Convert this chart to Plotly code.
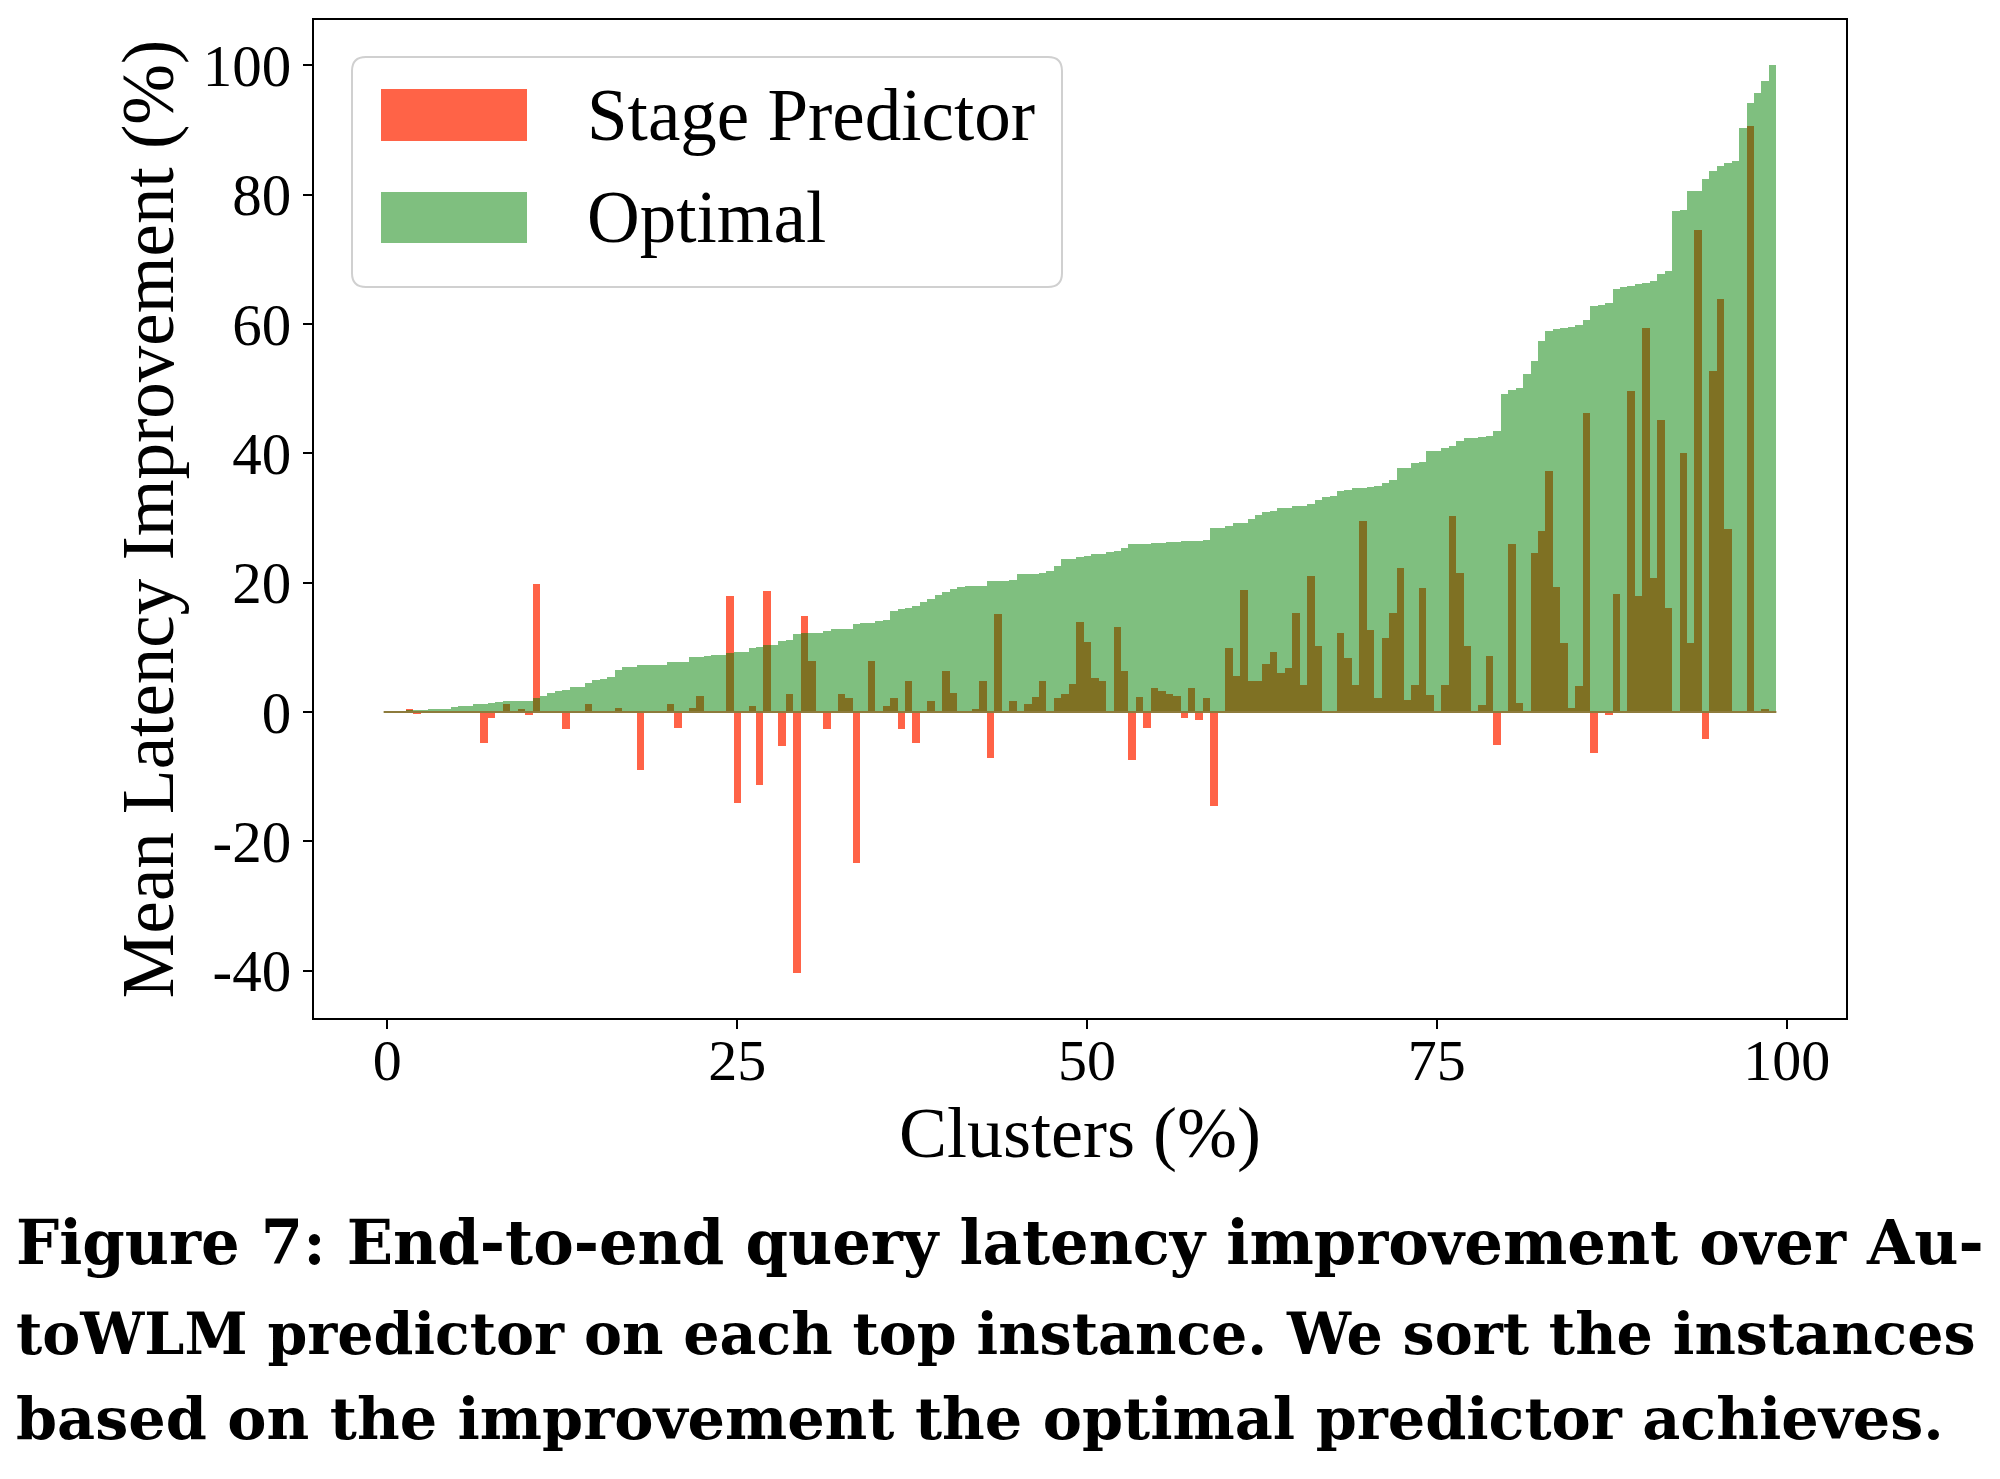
import numpy as np
import plotly.graph_objects as go

# ---------------- data ----------------
# Optimal predictor improvement (%) per cluster, sorted ascending
optimal = [
    0.05, 0.06, 0.08,
    0.30, 0.33, 0.36, 0.40, 0.42, 0.45,
    0.85, 0.90, 0.95,
    1.25, 1.30, 1.35,
    1.60, 1.65, 1.70, 1.72, 1.75,
    2.2, 2.5,
    3.0, 3.2,
    3.4,
    3.8, 3.85,
    4.5,
    5.0, 5.05,
    5.4,
    6.5,
    6.9, 6.95,
    7.2, 7.25, 7.3, 7.35,
    7.7, 7.75, 7.8,
    8.5, 8.55, 8.6,
    8.8, 8.85,
    9.2, 9.25, 9.3,
    9.9, 10.0,
    10.3, 10.4,
    11.0, 11.1,
    12.1, 12.15, 12.2, 12.25,
    12.6,
    12.8, 12.85, 12.9,
    13.6, 13.7, 13.75,
    14.1, 14.2,
    15.6,
    16.0, 16.1,
    16.4, 17.0, 17.5, 18.1, 18.6, 19.1,
    19.4, 19.45, 19.5, 19.55,
    20.2, 20.25, 20.3, 20.35,
    21.3, 21.35, 21.4, 21.45,
    21.8, 22.6,
    23.6, 23.7, 24.0, 24.1, 24.4, 24.5, 24.8, 24.9,
    25.3,
    26.0, 26.0, 26.05, 26.1, 26.1,
    26.3, 26.35, 26.4, 26.45, 26.5, 26.6,
    28.4, 28.5, 28.8, 29.2, 29.3, 29.9, 30.4,
    31.0, 31.1, 31.5, 31.6, 31.8, 31.9,
    32.2, 32.8, 33.3, 33.4, 34.2, 34.3,
    34.6, 34.7, 34.8, 34.9, 35.4, 35.9,
    37.7, 37.8, 38.5, 38.6, 40.3, 40.4,
    40.8, 41.1, 41.9, 42.3, 42.4, 42.6, 42.7, 43.5,
    49.2, 49.8, 50.1, 52.2, 54.3, 57.3,
    59.0, 59.2, 59.4, 59.6, 59.8, 60.7,
    62.8, 62.9, 63.2, 65.4, 65.8, 65.9,
    66.2, 66.3, 66.7, 67.7, 68.2,
    77.5, 77.6, 80.5, 80.6, 82.4, 83.7,
    84.5, 84.9, 85.2, 90.3, 94.2, 95.7, 97.6, 100.0,
]

# Stage predictor improvement (%) per cluster (same order)
stage = [
    0, 0, 0, 0.4, -0.2, 0, 0, 0, 0, 0,
    0, 0, -0.1, -4.8, -0.9, 0, 1.3, 0, 0.5, -0.5,
    19.8, 0, -0.1, 0, -2.7, 0, 0, 1.3, 0, 0,
    0, 0.6, 0, 0, -9.0, 0, 0, 0, 1.3, -2.4,
    0, 0.6, 2.5, 0, 0, 0, 18.0, -14.0, 0, 0.9,
    -11.3, 18.7, 0, -5.2, 2.8, -40.3, 14.9, 7.9, 0, -2.7,
    0, 2.8, 2.1, -23.3, 0, 7.9, 0, 0.9, 2.1, -2.7,
    4.8, -4.8, 0, 1.7, 0, 6.3, 3.0, 0, 0, 0.5,
    4.8, -7.1, 15.2, 0, 1.7, 0, 1.2, 2.4, 4.8, 0,
    2.1, 2.8, 4.4, 14.0, 10.9, 5.2, 4.8, 0, 13.2, 6.3,
    -7.4, 2.4, -2.5, 3.7, 3.3, 2.8, 2.5, -0.9, 3.7, -1.3,
    2.1, -14.6, 0, 9.9, 5.6, 18.8, 4.8, 4.8, 7.5, 9.3,
    6.0, 6.8, 15.3, 4.2, 21.1, 10.2, 0, 0, 12.2, 8.3,
    4.2, 29.6, 12.7, 2.1, 11.4, 15.3, 22.3, 1.8, 4.2, 19.2,
    2.6, 0, 4.2, 30.3, 21.5, 10.2, 0, 1.1, 8.7, -5.1,
    0, 26.0, 1.4, 0, 24.6, 28.0, 37.3, 19.4, 10.6, 0.6,
    4.0, 46.2, -6.4, 0, -0.5, 18.3, 0, 49.6, 17.9, 59.4,
    20.7, 45.1, 16.1, 0, 40.0, 10.6, 74.5, -4.1, 52.8, 63.9,
    28.3, 0, 0, 90.7, 0, 0.5, 0,
]

series_names = ["Stage Predictor", "Optimal"]
x_ticks = [0, 25, 50, 75, 100]
x_tick_labels = ["0", "25", "50", "75", "100"]
y_ticks = [-40, -20, 0, 20, 40, 60, 80, 100]
y_tick_labels = ["-40", "-20", "0", "20", "40", "60", "80", "100"]

caption_lines = [
    "Figure 7: End-to-end query latency improvement over Au-",
    "toWLM predictor on each top instance. We sort the instances",
    "based on the improvement the optimal predictor achieves.",
]

# ---------------- geometry ----------------
n = min(len(optimal), len(stage))
optimal = optimal[:n]
stage = stage[:n]
cluster_pct = np.linspace(0, 99, n)
bar_w = cluster_pct[1] - cluster_pct[0]

x_lo = cluster_pct[0] - bar_w / 2
x_hi = cluster_pct[-1] + bar_w / 2
x_pad = 0.05 * (x_hi - x_lo)
y_lo = min(min(stage), min(optimal), 0)
y_hi = max(max(stage), max(optimal))
y_pad = 0.05 * (y_hi - y_lo)

# The page body adds an 8px offset; compensate so the picture lands where the reference is.
OFF = 8
W, H = 2000 - OFF, 1479 - OFF
PX_L, PX_R, PX_T, PX_B = 314, 1846, 20, 1018   # plot area in reference pixels


def pxx(px):
    return (px - PX_L) / (PX_R - PX_L)


def pxy(py):
    return (PX_B - py) / (PX_B - PX_T)


RED = "#FF6347"
GREEN = "rgba(0,128,0,0.5)"
FONT = "Liberation Serif"

fig = go.Figure()
fig.add_trace(go.Bar(
    x=cluster_pct, y=stage, width=bar_w, name=series_names[0],
    marker=dict(color=RED, line=dict(width=0)), showlegend=False,
))
fig.add_trace(go.Bar(
    x=cluster_pct, y=optimal, width=bar_w, name=series_names[1],
    marker=dict(color=GREEN, line=dict(width=0)), showlegend=False,
))

axis_common = dict(
    showline=True, mirror=True, linecolor="black", linewidth=2,
    ticks="outside", ticklen=9, tickwidth=2, tickcolor="black",
    showgrid=False, zeroline=False,
)

fig.update_layout(
    width=W, height=H,
    margin=dict(l=PX_L - OFF, r=2000 - PX_R, t=PX_T - OFF, b=1479 - PX_B, autoexpand=False),
    paper_bgcolor="white", plot_bgcolor="white",
    barmode="overlay", bargap=0,
    showlegend=False,
    xaxis=dict(
        range=[x_lo - x_pad, x_hi + x_pad],
        tickmode="array", tickvals=x_ticks, ticktext=x_tick_labels,
        tickfont=dict(family=FONT, size=58, color="black"),
        title=dict(text="Clusters (%)", font=dict(family=FONT, size=72, color="black"), standoff=12),
        ticklabelstandoff=-19,
        **axis_common,
    ),
    yaxis=dict(
        range=[y_lo - y_pad, y_hi + y_pad],
        tickmode="array", tickvals=y_ticks, ticktext=y_tick_labels,
        tickfont=dict(family=FONT, size=59, color="black"),
        title=dict(text="Mean Latency Improvement (%)", font=dict(family=FONT, size=73, color="black"), standoff=5),
        ticklabelstandoff=0,
        **axis_common,
    ),
)

# zero baseline along the bars
fig.add_shape(type="line", xref="x", yref="y", x0=x_lo, x1=x_hi, y0=0, y1=0,
              line=dict(color="#8d7b3c", width=2), layer="above")

# ---------------- custom legend (matplotlib-like large patches) ----------------
bx0, by0, bx1, by1, rad = 352, 57, 1062, 287, 14
pts = [
    ("M", bx0 + rad, by0), ("L", bx1 - rad, by0), ("Q", bx1, by0, bx1, by0 + rad),
    ("L", bx1, by1 - rad), ("Q", bx1, by1, bx1 - rad, by1),
    ("L", bx0 + rad, by1), ("Q", bx0, by1, bx0, by1 - rad),
    ("L", bx0, by0 + rad), ("Q", bx0, by0, bx0 + rad, by0),
]
path = ""
for p in pts:
    cmd = p[0]
    coords = p[1:]
    seg = []
    for i in range(0, len(coords), 2):
        seg.append(f"{pxx(coords[i]):.5f},{pxy(coords[i + 1]):.5f}")
    path += cmd + " ".join(seg) + " "
path += "Z"
fig.add_shape(type="path", xref="paper", yref="paper", path=path,
              fillcolor="rgba(255,255,255,0.85)", line=dict(color="#d0d0d0", width=2), layer="above")

patches = [(RED, 89, 141), (GREEN, 192, 243)]
for (col, t, b), name in zip(patches, series_names):
    fig.add_shape(type="rect", xref="paper", yref="paper",
                  x0=pxx(381), x1=pxx(527), y0=pxy(b), y1=pxy(t),
                  fillcolor=col, line=dict(width=0), layer="above")
    fig.add_annotation(x=pxx(585), y=pxy((t + b) / 2), xref="paper", yref="paper",
                       text=name, showarrow=False, xanchor="left", yanchor="middle",
                       font=dict(family=FONT, size=73, color="black"))

# ---------------- caption ----------------
caption_baselines = [1266, 1355, 1441]
caption_sizes = [60.8, 57, 58.8]
for line, base, sz in zip(caption_lines, caption_baselines, caption_sizes):
    fig.add_annotation(x=pxx(14), y=pxy(base + 14), xref="paper", yref="paper",
                       text=f"<b>{line}</b>", showarrow=False, xanchor="left", yanchor="bottom",
                       font=dict(family="DejaVu Serif", size=sz, color="black"))

fig.write_html("out.html")
